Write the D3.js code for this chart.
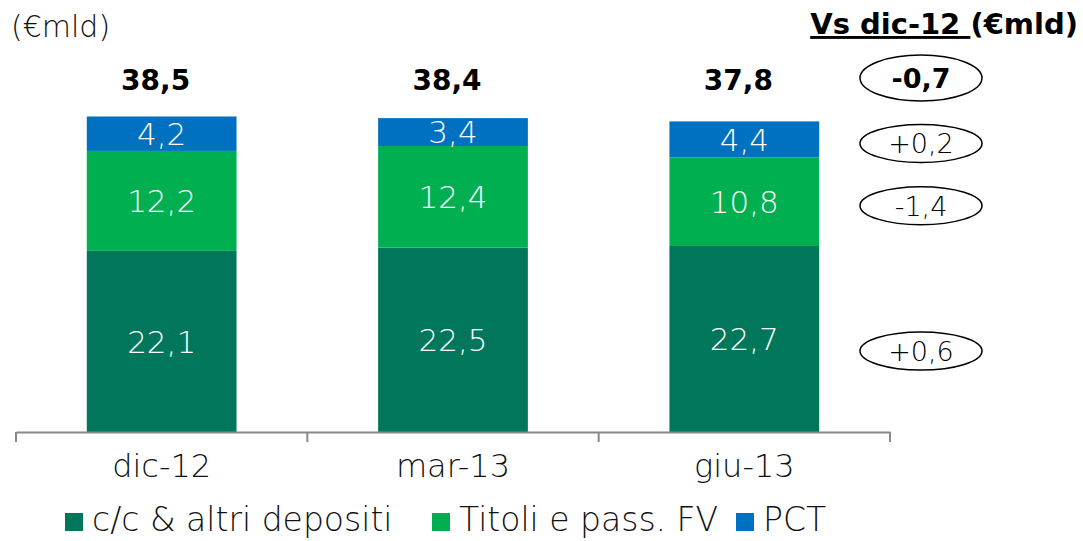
<!DOCTYPE html>
<html>
<head>
<meta charset="utf-8">
<script src="https://cdn.jsdelivr.net/npm/d3@7"></script>
<style>
  body { margin: 0; background: #fff; }
  svg { display: block; font-family: "DejaVu Sans", sans-serif; }
</style>
</head>
<body>
<div id="chart"></div>
<script>
// data
const periods = ["dic-12", "mar-13", "giu-13"];
const seriesNames = ["c/c & altri depositi", "Titoli e pass. FV", "PCT"];
const depositi = [22.1, 22.5, 22.7];
const titoli = [12.2, 12.4, 10.8];
const pct = [4.2, 3.4, 4.4];
const totals = [38.5, 38.4, 37.8];
const deltaTotal = "-0,7";
const deltaSeries = ["+0,6", "-1,4", "+0,2"];   // same order as seriesNames
const colors = ["#00775A", "#00B050", "#0070C0"];

const fmt = v => d3.format(".1f")(v).replace(".", ",");

const width = 1083, height = 541;
const svg = d3.select("#chart").append("svg")
    .attr("width", width)
    .attr("height", height);

const rows = periods.map((p, i) => ({period: p, s0: depositi[i], s1: titoli[i], s2: pct[i]}));
const stack = d3.stack().keys(["s0", "s1", "s2"])(rows);

const x = d3.scaleBand()
    .domain(periods)
    .range([16, 890])
    .paddingInner(0.486)
    .paddingOuter(0.243);

const y = d3.scaleLinear()
    .domain([0, 40])
    .range([432, 432 - 40 * 8.195]);

// bars
const layers = svg.selectAll(".layer")
    .data(stack)
    .enter().append("g")
    .attr("fill", (d, i) => colors[i]);

layers.selectAll("rect")
    .data(d => d)
    .enter().append("rect")
    .attr("x", d => x(d.data.period))
    .attr("y", d => y(d[1]))
    .attr("width", x.bandwidth())
    .attr("height", d => y(d[0]) - y(d[1]));

layers.selectAll("text")
    .data(d => d)
    .enter().append("text")
    .attr("x", d => x(d.data.period) + x.bandwidth() / 2)
    .attr("y", d => (y(d[0]) + y(d[1])) / 2)
    .attr("dy", "0.36em")
    .attr("text-anchor", "middle")
    .attr("fill", "#fff")
    .attr("font-size", 31)
    .attr("font-weight", 200)
    .text(d => fmt(d[1] - d[0]));

// totals
svg.selectAll(".total")
    .data(totals)
    .enter().append("text")
    .attr("x", (d, i) => x(periods[i]) + x.bandwidth() / 2 - 6)
    .attr("y", 90)
    .attr("text-anchor", "middle")
    .attr("font-size", 28)
    .attr("font-weight", "bold")
    .attr("fill", "#000")
    .text(d => fmt(d));

// category axis
const axis = svg.append("g")
    .attr("transform", "translate(0,432)")
    .call(d3.axisBottom(x).tickSize(0).tickPadding(0));
axis.select(".domain").attr("stroke", "#888").attr("stroke-width", 2);
axis.selectAll(".tick text").remove();

// tick marks sit between the categories
const gap = (x.step() - x.bandwidth()) / 2;
const edges = periods.map(p => x(p) - gap);
edges.push(x.range()[1]);
axis.selectAll(".edge")
    .data(edges)
    .enter().append("line")
    .attr("x1", d => d).attr("x2", d => d)
    .attr("y1", 0).attr("y2", 10)
    .attr("stroke", "#888")
    .attr("stroke-width", 2);

svg.selectAll(".cat")
    .data(periods)
    .enter().append("text")
    .attr("x", d => x(d) + x.bandwidth() / 2)
    .attr("y", 477)
    .attr("text-anchor", "middle")
    .attr("font-size", 32)
    .attr("font-weight", 200)
    .attr("fill", "#111")
    .text(d => d);

// unit label
svg.append("text")
    .attr("x", 11)
    .attr("y", 37)
    .attr("font-size", 30)
    .attr("font-weight", 200)
    .attr("fill", "#111")
    .text("(€mld)");

// right header
const head = svg.append("text")
    .attr("x", 1078)
    .attr("y", 34)
    .attr("text-anchor", "end")
    .attr("font-size", 29)
    .attr("font-weight", "bold")
    .attr("fill", "#000");
head.append("tspan").attr("text-decoration", "underline").text("Vs dic-12 ");
head.append("tspan").text("(€mld)");

// delta bubbles
const last = periods.length - 1;
const bubbleX = 921;
const bubbles = [{label: deltaTotal, cy: 78, ry: 23, bold: true}]
    .concat(stack.slice().reverse().map((s, k) => {
        const idx = stack.length - 1 - k;
        return {label: deltaSeries[idx], cy: (y(s[last][0]) + y(s[last][1])) / 2 + (idx === 0 ? 12 : 4), ry: 19, bold: false};
    }));

const bg = svg.selectAll(".bubble")
    .data(bubbles)
    .enter().append("g");

bg.append("ellipse")
    .attr("cx", bubbleX)
    .attr("cy", d => d.cy)
    .attr("rx", 61)
    .attr("ry", d => d.ry)
    .attr("fill", "#fff")
    .attr("stroke", "#000")
    .attr("stroke-width", 1.5);

bg.append("text")
    .attr("x", bubbleX)
    .attr("y", d => d.cy)
    .attr("dy", "0.37em")
    .attr("text-anchor", "middle")
    .attr("font-size", 27)
    .attr("font-weight", d => d.bold ? "bold" : 200)
    .attr("fill", "#000")
    .text(d => d.label);

// legend
const legendX = [65, 432, 736];
const lg = svg.selectAll(".legend")
    .data(seriesNames)
    .enter().append("g")
    .attr("transform", (d, i) => `translate(${legendX[i]},513)`);
lg.append("rect")
    .attr("width", 18).attr("height", 18)
    .attr("fill", (d, i) => colors[i]);
lg.append("text")
    .attr("x", 27)
    .attr("y", 18)
    .attr("font-size", 33)
    .attr("font-weight", 200)
    .attr("fill", "#111")
    .text(d => d);
</script>
</body>
</html>
